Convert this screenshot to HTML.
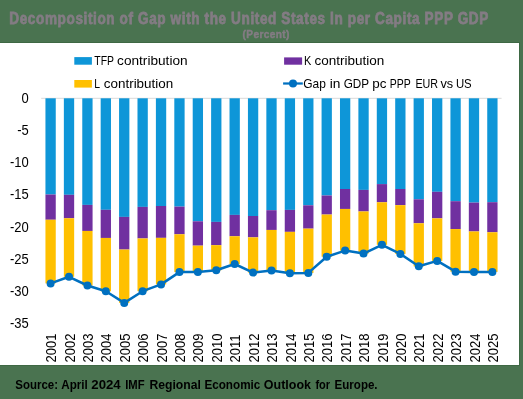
<!DOCTYPE html>
<html><head><meta charset="utf-8"><style>
html,body{margin:0;padding:0;}
body{width:523px;height:399px;background:#4a7350;position:relative;overflow:hidden;font-family:"Liberation Sans",sans-serif;}
#white{position:absolute;left:-1px;top:42px;width:519px;height:322px;background:#fff;border:1px solid #3e6844;}
svg{position:absolute;left:0;top:0;will-change:transform;}
svg text{font-family:"Liberation Sans",sans-serif;font-size:12.4px;fill:#000;}
svg .ax{font-size:13px;}
svg .ttl{font-weight:700;fill:#847c84;stroke:#847c84;}
svg .src{font-weight:700;font-size:12px;fill:#000;}
</style></head><body>
<div id="white"></div>
<svg width="523" height="399" viewBox="0 0 523 399">
<text class="ttl" transform="translate(9.3,24.1) scale(0.86,1)" style="font-size:15.8px;stroke-width:0.75px" textLength="557" lengthAdjust="spacing">Decomposition of Gap with the United States In per Capita PPP GDP</text>
<text class="ttl" transform="translate(242.6,37.6) scale(0.9,1)" style="font-size:11.2px;stroke-width:0.45px" textLength="52" lengthAdjust="spacing">(Percent)</text>
<g transform="translate(0,388.9) scale(1,1.1) translate(0,-388.4)"><text class="src" x="15.30" y="388.2" textLength="42.70" lengthAdjust="spacingAndGlyphs">Source:</text><text class="src" x="61.20" y="388.2" textLength="26.60" lengthAdjust="spacingAndGlyphs">April</text><text class="src" x="91.30" y="388.2" textLength="29.40" lengthAdjust="spacingAndGlyphs">2024</text><text class="src" x="125.20" y="388.2" textLength="19.40" lengthAdjust="spacingAndGlyphs">IMF</text><text class="src" x="149.40" y="388.2" textLength="51.50" lengthAdjust="spacingAndGlyphs">Regional</text><text class="src" x="204.40" y="388.2" textLength="55.90" lengthAdjust="spacingAndGlyphs">Economic</text><text class="src" x="263.80" y="388.2" textLength="47.20" lengthAdjust="spacingAndGlyphs">Outlook</text><text class="src" x="315.40" y="388.2" textLength="14.70" lengthAdjust="spacingAndGlyphs">for</text><text class="src" x="334.60" y="388.2" textLength="43.00" lengthAdjust="spacingAndGlyphs">Europe.</text></g>
<rect x="74.3" y="57.1" width="17.6" height="7.6" fill="#0e96d8"/>
<text x="94.30" y="65.2" textLength="19.70" lengthAdjust="spacingAndGlyphs">TFP</text><text x="117.10" y="65.2" textLength="70.50" lengthAdjust="spacingAndGlyphs">contribution</text>
<rect x="74.3" y="80" width="17.6" height="7.6" fill="#ffc000"/>
<text x="94.30" y="88.2" textLength="5.80" lengthAdjust="spacingAndGlyphs">L</text><text x="103.80" y="88.2" textLength="69.40" lengthAdjust="spacingAndGlyphs">contribution</text>
<rect x="284.1" y="57.4" width="18" height="7.3" fill="#7030a0"/>
<text x="304.10" y="65.2" textLength="7.30" lengthAdjust="spacingAndGlyphs">K</text><text x="314.50" y="65.2" textLength="69.80" lengthAdjust="spacingAndGlyphs">contribution</text>
<line x1="283.1" y1="83.5" x2="302.8" y2="83.5" stroke="#0070c0" stroke-width="2.25"/>
<circle cx="293" cy="83.5" r="4" fill="#0070c0"/>
<text x="303.20" y="88.2" textLength="22.60" lengthAdjust="spacingAndGlyphs">Gap</text><text x="329.70" y="88.2" textLength="10.70" lengthAdjust="spacingAndGlyphs">in</text><text x="343.70" y="88.2" textLength="25.40" lengthAdjust="spacingAndGlyphs">GDP</text><text x="372.30" y="88.2" textLength="14.20" lengthAdjust="spacingAndGlyphs">pc</text><text x="389.80" y="88.2" textLength="21.00" lengthAdjust="spacingAndGlyphs">PPP</text><text x="415.40" y="88.2" textLength="22.70" lengthAdjust="spacingAndGlyphs">EUR</text><text x="440.40" y="88.2" textLength="12.70" lengthAdjust="spacingAndGlyphs">vs</text><text x="455.90" y="88.2" textLength="15.80" lengthAdjust="spacingAndGlyphs">US</text>
<line x1="41.2" y1="98.3" x2="501.6" y2="98.3" stroke="#d9d9d9" stroke-width="1"/>
<rect x="45.45" y="98.30" width="10.3" height="96.20" fill="#0e96d8"/><rect x="45.45" y="194.50" width="10.3" height="25.25" fill="#7030a0"/><rect x="45.45" y="219.75" width="10.3" height="63.65" fill="#ffc000"/><rect x="63.86" y="98.30" width="10.3" height="96.50" fill="#0e96d8"/><rect x="63.86" y="194.80" width="10.3" height="23.45" fill="#7030a0"/><rect x="63.86" y="218.25" width="10.3" height="58.55" fill="#ffc000"/><rect x="82.27" y="98.30" width="10.3" height="106.60" fill="#0e96d8"/><rect x="82.27" y="204.90" width="10.3" height="26.05" fill="#7030a0"/><rect x="82.27" y="230.95" width="10.3" height="54.55" fill="#ffc000"/><rect x="100.67" y="98.30" width="10.3" height="111.50" fill="#0e96d8"/><rect x="100.67" y="209.80" width="10.3" height="28.15" fill="#7030a0"/><rect x="100.67" y="237.95" width="10.3" height="53.35" fill="#ffc000"/><rect x="119.08" y="98.30" width="10.3" height="118.60" fill="#0e96d8"/><rect x="119.08" y="216.90" width="10.3" height="32.65" fill="#7030a0"/><rect x="119.08" y="249.55" width="10.3" height="53.35" fill="#ffc000"/><rect x="137.49" y="98.30" width="10.3" height="108.60" fill="#0e96d8"/><rect x="137.49" y="206.90" width="10.3" height="31.55" fill="#7030a0"/><rect x="137.49" y="238.45" width="10.3" height="52.75" fill="#ffc000"/><rect x="155.90" y="98.30" width="10.3" height="107.70" fill="#0e96d8"/><rect x="155.90" y="206.00" width="10.3" height="31.85" fill="#7030a0"/><rect x="155.90" y="237.85" width="10.3" height="46.55" fill="#ffc000"/><rect x="174.31" y="98.30" width="10.3" height="108.30" fill="#0e96d8"/><rect x="174.31" y="206.60" width="10.3" height="27.65" fill="#7030a0"/><rect x="174.31" y="234.25" width="10.3" height="37.85" fill="#ffc000"/><rect x="192.71" y="98.30" width="10.3" height="123.00" fill="#0e96d8"/><rect x="192.71" y="221.30" width="10.3" height="24.35" fill="#7030a0"/><rect x="192.71" y="245.65" width="10.3" height="26.45" fill="#ffc000"/><rect x="211.12" y="98.30" width="10.3" height="123.60" fill="#0e96d8"/><rect x="211.12" y="221.90" width="10.3" height="23.25" fill="#7030a0"/><rect x="211.12" y="245.15" width="10.3" height="25.15" fill="#ffc000"/><rect x="229.53" y="98.30" width="10.3" height="116.60" fill="#0e96d8"/><rect x="229.53" y="214.90" width="10.3" height="21.35" fill="#7030a0"/><rect x="229.53" y="236.25" width="10.3" height="27.75" fill="#ffc000"/><rect x="247.94" y="98.30" width="10.3" height="117.70" fill="#0e96d8"/><rect x="247.94" y="216.00" width="10.3" height="21.35" fill="#7030a0"/><rect x="247.94" y="237.35" width="10.3" height="35.25" fill="#ffc000"/><rect x="266.35" y="98.30" width="10.3" height="111.90" fill="#0e96d8"/><rect x="266.35" y="210.20" width="10.3" height="19.75" fill="#7030a0"/><rect x="266.35" y="229.95" width="10.3" height="40.55" fill="#ffc000"/><rect x="284.75" y="98.30" width="10.3" height="111.60" fill="#0e96d8"/><rect x="284.75" y="209.90" width="10.3" height="21.95" fill="#7030a0"/><rect x="284.75" y="231.85" width="10.3" height="41.35" fill="#ffc000"/><rect x="303.16" y="98.30" width="10.3" height="107.00" fill="#0e96d8"/><rect x="303.16" y="205.30" width="10.3" height="23.35" fill="#7030a0"/><rect x="303.16" y="228.65" width="10.3" height="44.25" fill="#ffc000"/><rect x="321.57" y="98.30" width="10.3" height="97.20" fill="#0e96d8"/><rect x="321.57" y="195.50" width="10.3" height="19.05" fill="#7030a0"/><rect x="321.57" y="214.55" width="10.3" height="42.15" fill="#ffc000"/><rect x="339.98" y="98.30" width="10.3" height="90.70" fill="#0e96d8"/><rect x="339.98" y="189.00" width="10.3" height="19.95" fill="#7030a0"/><rect x="339.98" y="208.95" width="10.3" height="41.65" fill="#ffc000"/><rect x="358.39" y="98.30" width="10.3" height="91.60" fill="#0e96d8"/><rect x="358.39" y="189.90" width="10.3" height="21.55" fill="#7030a0"/><rect x="358.39" y="211.45" width="10.3" height="42.15" fill="#ffc000"/><rect x="376.79" y="98.30" width="10.3" height="85.80" fill="#0e96d8"/><rect x="376.79" y="184.10" width="10.3" height="18.15" fill="#7030a0"/><rect x="376.79" y="202.25" width="10.3" height="42.55" fill="#ffc000"/><rect x="395.20" y="98.30" width="10.3" height="90.70" fill="#0e96d8"/><rect x="395.20" y="189.00" width="10.3" height="16.15" fill="#7030a0"/><rect x="395.20" y="205.15" width="10.3" height="48.75" fill="#ffc000"/><rect x="413.61" y="98.30" width="10.3" height="101.00" fill="#0e96d8"/><rect x="413.61" y="199.30" width="10.3" height="23.95" fill="#7030a0"/><rect x="413.61" y="223.25" width="10.3" height="43.05" fill="#ffc000"/><rect x="432.02" y="98.30" width="10.3" height="93.50" fill="#0e96d8"/><rect x="432.02" y="191.80" width="10.3" height="26.55" fill="#7030a0"/><rect x="432.02" y="218.35" width="10.3" height="42.55" fill="#ffc000"/><rect x="450.43" y="98.30" width="10.3" height="102.90" fill="#0e96d8"/><rect x="450.43" y="201.20" width="10.3" height="27.85" fill="#7030a0"/><rect x="450.43" y="229.05" width="10.3" height="42.65" fill="#ffc000"/><rect x="468.83" y="98.30" width="10.3" height="104.30" fill="#0e96d8"/><rect x="468.83" y="202.60" width="10.3" height="28.85" fill="#7030a0"/><rect x="468.83" y="231.45" width="10.3" height="40.65" fill="#ffc000"/><rect x="487.24" y="98.30" width="10.3" height="103.90" fill="#0e96d8"/><rect x="487.24" y="202.20" width="10.3" height="30.05" fill="#7030a0"/><rect x="487.24" y="232.25" width="10.3" height="39.65" fill="#ffc000"/>
<polyline points="50.60,283.40 69.01,276.80 87.42,285.50 105.82,291.30 124.23,302.90 142.64,291.20 161.05,284.40 179.46,272.10 197.86,272.10 216.27,270.30 234.68,264.00 253.09,272.60 271.50,270.50 289.90,273.20 308.31,272.90 326.72,256.70 345.13,250.60 363.54,253.60 381.94,244.80 400.35,253.90 418.76,266.30 437.17,260.90 455.58,271.70 473.98,272.10 492.39,271.90" fill="none" stroke="#0070c0" stroke-width="2.5" stroke-linejoin="round"/>
<circle cx="50.60" cy="283.40" r="4" fill="#0070c0"/><circle cx="69.01" cy="276.80" r="4" fill="#0070c0"/><circle cx="87.42" cy="285.50" r="4" fill="#0070c0"/><circle cx="105.82" cy="291.30" r="4" fill="#0070c0"/><circle cx="124.23" cy="302.90" r="4" fill="#0070c0"/><circle cx="142.64" cy="291.20" r="4" fill="#0070c0"/><circle cx="161.05" cy="284.40" r="4" fill="#0070c0"/><circle cx="179.46" cy="272.10" r="4" fill="#0070c0"/><circle cx="197.86" cy="272.10" r="4" fill="#0070c0"/><circle cx="216.27" cy="270.30" r="4" fill="#0070c0"/><circle cx="234.68" cy="264.00" r="4" fill="#0070c0"/><circle cx="253.09" cy="272.60" r="4" fill="#0070c0"/><circle cx="271.50" cy="270.50" r="4" fill="#0070c0"/><circle cx="289.90" cy="273.20" r="4" fill="#0070c0"/><circle cx="308.31" cy="272.90" r="4" fill="#0070c0"/><circle cx="326.72" cy="256.70" r="4" fill="#0070c0"/><circle cx="345.13" cy="250.60" r="4" fill="#0070c0"/><circle cx="363.54" cy="253.60" r="4" fill="#0070c0"/><circle cx="381.94" cy="244.80" r="4" fill="#0070c0"/><circle cx="400.35" cy="253.90" r="4" fill="#0070c0"/><circle cx="418.76" cy="266.30" r="4" fill="#0070c0"/><circle cx="437.17" cy="260.90" r="4" fill="#0070c0"/><circle cx="455.58" cy="271.70" r="4" fill="#0070c0"/><circle cx="473.98" cy="272.10" r="4" fill="#0070c0"/><circle cx="492.39" cy="271.90" r="4" fill="#0070c0"/>
<text class="ax" transform="translate(28.7,103.00) scale(1,1.13)" text-anchor="end">0</text><text class="ax" transform="translate(28.7,135.14) scale(1,1.13)" text-anchor="end">-5</text><text class="ax" transform="translate(28.7,167.28) scale(1,1.13)" text-anchor="end">-10</text><text class="ax" transform="translate(28.7,199.42) scale(1,1.13)" text-anchor="end">-15</text><text class="ax" transform="translate(28.7,231.56) scale(1,1.13)" text-anchor="end">-20</text><text class="ax" transform="translate(28.7,263.70) scale(1,1.13)" text-anchor="end">-25</text><text class="ax" transform="translate(28.7,295.84) scale(1,1.13)" text-anchor="end">-30</text><text class="ax" transform="translate(28.7,327.98) scale(1,1.13)" text-anchor="end">-35</text>
<text class="ax" transform="translate(56.20,362.4) rotate(-90) scale(1,1.12)">2001</text><text class="ax" transform="translate(74.61,362.4) rotate(-90) scale(1,1.12)">2002</text><text class="ax" transform="translate(93.02,362.4) rotate(-90) scale(1,1.12)">2003</text><text class="ax" transform="translate(111.42,362.4) rotate(-90) scale(1,1.12)">2004</text><text class="ax" transform="translate(129.83,362.4) rotate(-90) scale(1,1.12)">2005</text><text class="ax" transform="translate(148.24,362.4) rotate(-90) scale(1,1.12)">2006</text><text class="ax" transform="translate(166.65,362.4) rotate(-90) scale(1,1.12)">2007</text><text class="ax" transform="translate(185.06,362.4) rotate(-90) scale(1,1.12)">2008</text><text class="ax" transform="translate(203.46,362.4) rotate(-90) scale(1,1.12)">2009</text><text class="ax" transform="translate(221.87,362.4) rotate(-90) scale(1,1.12)">2010</text><text class="ax" transform="translate(240.28,362.4) rotate(-90) scale(1,1.12)">2011</text><text class="ax" transform="translate(258.69,362.4) rotate(-90) scale(1,1.12)">2012</text><text class="ax" transform="translate(277.10,362.4) rotate(-90) scale(1,1.12)">2013</text><text class="ax" transform="translate(295.50,362.4) rotate(-90) scale(1,1.12)">2014</text><text class="ax" transform="translate(313.91,362.4) rotate(-90) scale(1,1.12)">2015</text><text class="ax" transform="translate(332.32,362.4) rotate(-90) scale(1,1.12)">2016</text><text class="ax" transform="translate(350.73,362.4) rotate(-90) scale(1,1.12)">2017</text><text class="ax" transform="translate(369.14,362.4) rotate(-90) scale(1,1.12)">2018</text><text class="ax" transform="translate(387.54,362.4) rotate(-90) scale(1,1.12)">2019</text><text class="ax" transform="translate(405.95,362.4) rotate(-90) scale(1,1.12)">2020</text><text class="ax" transform="translate(424.36,362.4) rotate(-90) scale(1,1.12)">2021</text><text class="ax" transform="translate(442.77,362.4) rotate(-90) scale(1,1.12)">2022</text><text class="ax" transform="translate(461.18,362.4) rotate(-90) scale(1,1.12)">2023</text><text class="ax" transform="translate(479.58,362.4) rotate(-90) scale(1,1.12)">2024</text><text class="ax" transform="translate(497.99,362.4) rotate(-90) scale(1,1.12)">2025</text>
</svg>
</body></html>
